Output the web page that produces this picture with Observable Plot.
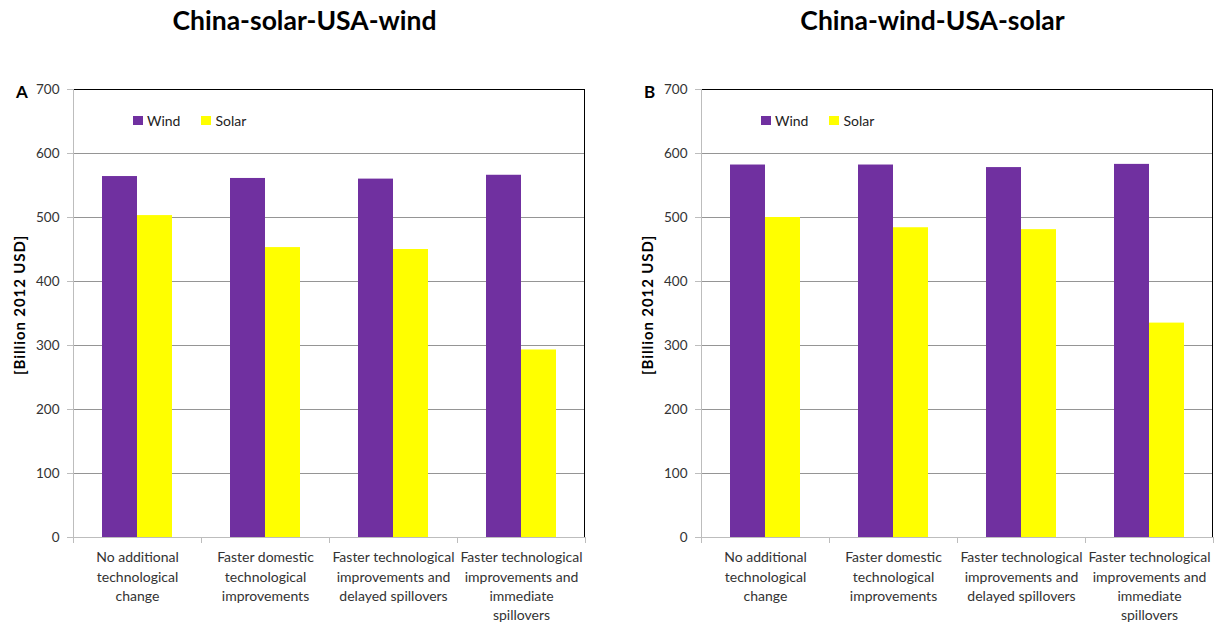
<!DOCTYPE html>
<html>
<head>
<meta charset="utf-8">
<script src="https://cdn.jsdelivr.net/npm/d3@7"></script>
<script src="https://cdn.jsdelivr.net/npm/@observablehq/plot@0.6"></script>
<style>
  html, body { margin: 0; padding: 0; background: #fff; overflow: hidden; }
  #root { position: relative; width: 1225px; height: 624px; font-family: Lato, "DejaVu Sans", sans-serif; color: #222; }
  .panel { position: absolute; top: 0; width: 597px; height: 624px; }
  .title { position: absolute; top: 4px; left: 0; width: 609px; text-align: center; font-weight: bold; font-size: 26.5px; color: #000; }
  .letter { position: absolute; left: 16px; top: 81px; font-weight: bold; font-size: 17px; color: #000; }
  .ylabel { position: absolute; left: 19px; top: 305px; transform: translate(-50%, -50%) rotate(-90deg); white-space: nowrap; font-weight: bold; font-size: 15px; letter-spacing: 0.9px; color: #000; }
  .legend { position: absolute; top: 112px; left: 133px; display: flex; align-items: center; font-size: 14px; color: #222; }
  .legend .item { display: flex; align-items: center; margin-right: 21px; }
  .legend .sw { width: 10px; height: 9px; margin-right: 4px; }
  .plotbox { position: absolute; left: 0; top: 60px; }
</style>
</head>
<body>
<div id="root"></div>
<script>
const categories = [
  "No additional technological change",
  "Faster domestic technological improvements",
  "Faster technological improvements and delayed spillovers",
  "Faster technological improvements and immediate spillovers"
];
const tickLabels = [
  "No additional\ntechnological\nchange",
  "Faster domestic\ntechnological\nimprovements",
  "Faster technological\nimprovements and\ndelayed spillovers",
  "Faster technological\nimprovements and\nimmediate\nspillovers"
];
const series = ["Wind", "Solar"];
const colors = ["#7030A0", "#FFFF00"];
const yTicks = [0, 100, 200, 300, 400, 500, 600, 700];

const panelTitles = ["China-solar-USA-wind", "China-wind-USA-solar"];
const panelLetters = ["A", "B"];
const yLabel = "[Billion 2012 USD]";

const windA = [564, 561, 560, 566];
const solarA = [503, 453, 450, 293];
const windB = [582, 582, 578, 583];
const solarB = [500, 484, 481, 335];

const root = document.getElementById("root");

function makePanel(left, title, letter, wind, solar) {
  const panel = document.createElement("div");
  panel.className = "panel";
  panel.style.left = left + "px";
  root.appendChild(panel);

  const t = document.createElement("div");
  t.className = "title"; t.textContent = title; panel.appendChild(t);
  const l = document.createElement("div");
  l.className = "letter"; l.textContent = letter; panel.appendChild(l);
  const yl = document.createElement("div");
  yl.className = "ylabel"; yl.textContent = yLabel; panel.appendChild(yl);

  const data = categories.flatMap((c, i) => [
    {category: c, series: series[0], value: wind[i]},
    {category: c, series: series[1], value: solar[i]}
  ]);

  const chart = Plot.plot({
    width: 597, height: 564,
    marginLeft: 73, marginRight: 12, marginTop: 29, marginBottom: 87,
    style: {fontFamily: "Lato, sans-serif", fontSize: "14px", color: "#222", background: "transparent", overflow: "visible"},
    fx: {domain: categories, padding: 0, label: null},
    x: {domain: series, paddingInner: 0, paddingOuter: 0.778, axis: null},
    y: {domain: [0, 700], label: null},
    color: {domain: series, range: colors},
    marks: [
      Plot.ruleY(yTicks.filter(v => v > 0 && v < 700), {stroke: "#959595"}),
      Plot.barY(data, {fx: "category", x: "series", y: "value", fill: "series"}),
      Plot.ruleY([0], {stroke: "#bdbdbd"}),
      Plot.ruleY([700], {stroke: "#000"}),
      Plot.axisY({ticks: yTicks, tickSize: 6, tickPadding: 8, stroke: "#bdbdbd", fill: "#333", fontSize: 13.5, label: null}),
      Plot.axisFx({anchor: "bottom", tickSize: 0, tickPadding: 11, label: null, fill: "#333", fontSize: 14, lineHeight: 1.38,
        tickFormat: d => tickLabels[categories.indexOf(d)]})
    ]
  });

  const box = document.createElement("div");
  box.className = "plotbox";
  box.appendChild(chart);
  panel.appendChild(box);

  // frame lines and category boundary ticks from the library's scales
  const fx = chart.scale("fx");
  const y = chart.scale("y");
  const y0 = y.apply(0), y1 = y.apply(700);
  const [xa, xb] = fx.range;
  const svg = d3.select(chart);
  const g = svg.append("g");
  g.append("line").attr("x1", xa + 0.5).attr("x2", xa + 0.5).attr("y1", y1).attr("y2", y0 + 6).attr("stroke", "#bdbdbd");
  g.append("line").attr("x1", xb - 0.5).attr("x2", xb - 0.5).attr("y1", y1).attr("y2", y0).attr("stroke", "#000");
  const bounds = categories.map(c => fx.apply(c)).concat([xb]);
  bounds.forEach(b => {
    const xx = Math.round(b) + 0.5;
    g.append("line").attr("x1", xx).attr("x2", xx).attr("y1", y0).attr("y2", y0 + 6).attr("stroke", "#bdbdbd");
  });

  // legend
  const lg = document.createElement("div");
  lg.className = "legend";
  series.forEach((s, i) => {
    const it = document.createElement("div"); it.className = "item";
    const sw = document.createElement("div"); sw.className = "sw"; sw.style.background = colors[i];
    const tx = document.createElement("span"); tx.textContent = s;
    it.appendChild(sw); it.appendChild(tx); lg.appendChild(it);
  });
  panel.appendChild(lg);
}

makePanel(0, panelTitles[0], panelLetters[0], windA, solarA);
makePanel(628, panelTitles[1], panelLetters[1], windB, solarB);
</script>
</body>
</html>
